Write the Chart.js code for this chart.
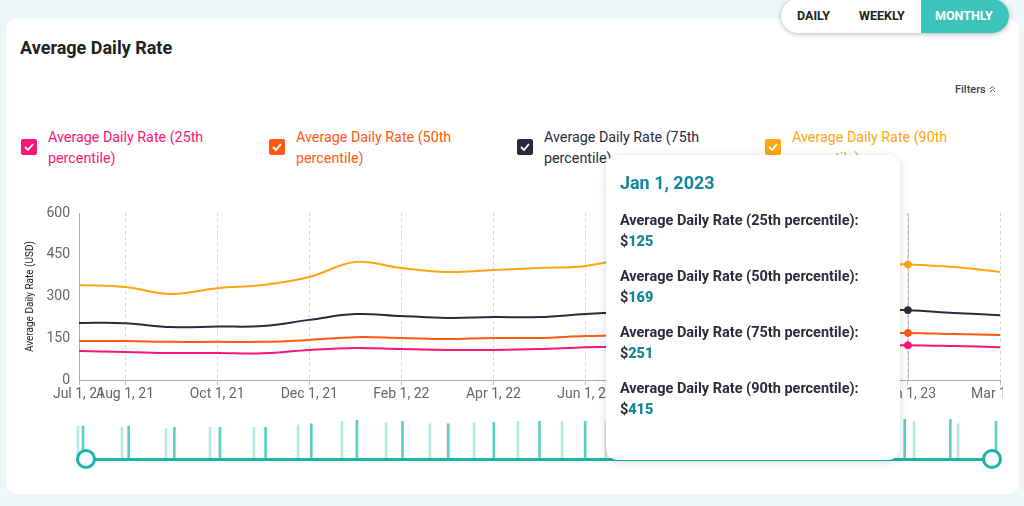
<!DOCTYPE html>
<html>
<head>
<meta charset="utf-8">
<script src="https://cdn.jsdelivr.net/npm/chart.js@4.4.0/dist/chart.umd.min.js"></script>
<style>
  body { margin: 0; width: 1024px; height: 506px; background: #eef6f9; font-family: Roboto, sans-serif; position: relative; overflow: hidden; }
  .card { position: absolute; left: 6px; top: 19px; width: 1013px; height: 475px; background: #fff; border-radius: 10px; }
  .title { position: absolute; left: 20px; top: 38px; font-size: 18px; line-height: 20px; font-weight: 700; color: #222; }
  .toggle { position: absolute; left: 781px; top: -1px; width: 228px; height: 34px; border-radius: 17px; background: #fff;
            box-shadow: 0 1px 5px rgba(0,0,0,.28); overflow: hidden; font-size: 12.5px; font-weight: 700; color: #222; }
  .toggle span { position: absolute; top: 0; line-height: 34px; }
  .toggle .on { left: 140px; width: 88px; height: 34px; background: #3cc3bb; color: #fff; text-indent: 14px; }
  .filters { position: absolute; left: 955px; top: 83px; font-size: 11px; line-height: 14px; color: #444; font-weight: 500; }
  .legend { position: absolute; top: 127px; left: 0; }
  .item { position: absolute; top: 0; width: 240px; }
  .box { position: absolute; left: 0; top: 12px; width: 16px; height: 16px; border-radius: 2px; }
  .box svg { position: absolute; left: 3px; top: 4px; }
  .txt { position: absolute; left: 27px; top: 0; width: 180px; font-size: 14.3px; line-height: 21px; }
  #wrap { position: absolute; left: 20px; top: 195px; width: 983px; height: 215px; overflow: hidden; }
  #ovLight { position: absolute; left: 68px; top: 419px; }
  #ovDark { position: absolute; left: 73px; top: 419px; }
  .track { position: absolute; left: 86px; top: 457.5px; width: 906px; height: 3px; background: #1ab4aa; }
  .knob { position: absolute; top: 449px; width: 14px; height: 14px; border: 3px solid #1ab4aa; border-radius: 50%; background: #fff; }
  #tip { position: absolute; width: 280px; height: 288px; padding: 17px 0 0 14px; background: #fff; border-radius: 12px;
         box-shadow: 0 2px 10px rgba(0,0,0,.16); display: none; z-index: 5; }
  #tip .t { font-size: 18px; line-height: 22px; font-weight: 700; color: #16879a; margin-bottom: 16px; }
  #tip .l { font-size: 14.5px; line-height: 21px; font-weight: 700; color: #2b2b3d; }
  #tip .v { font-size: 14.5px; line-height: 21px; font-weight: 700; color: #2b2b3d; margin-bottom: 14px; }
  #tip .v b { color: #16879a; }
</style>
</head>
<body>
<div class="card"></div>
<div class="title">Average Daily Rate</div>
<div class="toggle"><span style="left:16px">DAILY</span><span style="left:78px">WEEKLY</span><span class="on">MONTHLY</span></div>
<div class="filters">Filters <svg width="7" height="8" viewBox="0 0 7 8"><path d="M1 4 L3.5 1.5 L6 4 M1 7 L3.5 4.5 L6 7" fill="none" stroke="#555" stroke-width="1"/></svg></div>
<div class="legend" id="legend"></div>
<div id="wrap"><canvas id="myChart" width="990" height="215"></canvas></div>
<canvas id="ovLight" width="900" height="40"></canvas>
<canvas id="ovDark" width="933" height="40"></canvas>
<div class="track"></div>
<div class="knob" style="left:76px"></div>
<div class="knob" style="left:982px"></div>
<div id="tip"></div>

<script>
var labels = ["Jul 1, 21", "Aug 1, 21", "Sep 1, 21", "Oct 1, 21", "Nov 1, 21", "Dec 1, 21", "Jan 1, 22",
    "Feb 1, 22", "Mar 1, 22", "Apr 1, 22", "May 1, 22", "Jun 1, 22", "Jul 1, 22", "Aug 1, 22",
    "Sep 1, 22", "Oct 1, 22", "Nov 1, 22", "Dec 1, 22", "Jan 1, 23", "Feb 1, 23", "Mar 1, 23"];
var shownTicks = [0, 1, 3, 5, 7, 9, 11, 13, 15, 18, 20];

var p25 = [104, 101, 97, 97, 96, 108, 115, 111, 108, 108, 111, 118, 120, 122, 122, 124, 125, 125, 125, 122, 118];
var p50 = [140, 140, 137, 137, 137, 144, 154, 151, 147, 151, 151, 158, 162, 165, 165, 168, 170, 170, 169, 165, 162];
var p75 = [205, 204, 190, 192, 194, 216, 237, 230, 223, 226, 226, 237, 245, 250, 248, 250, 252, 252, 251, 241, 233];
var p90 = [341, 334, 309, 330, 341, 370, 424, 402, 388, 395, 402, 410, 440, 445, 430, 425, 420, 418, 415, 406, 388];

var seriesNames = ["Average Daily Rate (25th percentile)", "Average Daily Rate (50th percentile)",
    "Average Daily Rate (75th percentile)", "Average Daily Rate (90th percentile)"];
var colors = ["#ff1477", "#ff5a0d", "#2a2a3e", "#ffa412"];

// little overview marks above the range slider
var ovDark = [28, 28, 27, 27, 27, 30, 33, 32, 30, 31, 32, 32, 32, 31, 31, 31, 31, 32, 34, 34, 32];
var ovLight = [28, 27, 26, 27, 27, 29, 32, 31, 30, 31, 32, 32, 32, 31, 31, 31, 31, 32, 33, 32, 30];

var allSeries = [p25, p50, p75, p90];

// legend
var legend = document.getElementById("legend");
for (var i = 0; i < seriesNames.length; i++) {
    var it = document.createElement("div");
    it.className = "item";
    it.style.left = (21 + i * 248) + "px";
    it.innerHTML = '<div class="box" style="background:' + colors[i] + '"><svg width="10" height="8" viewBox="0 0 10 8">' +
        '<path d="M1 4 L4 7 L9 1" fill="none" stroke="#fff" stroke-width="1.8"/></svg></div>' +
        '<div class="txt" style="color:' + colors[i] + '">' + seriesNames[i] + '</div>';
    legend.appendChild(it);
}

const tipEl = document.getElementById("tip");
function externalTip(context) {
    const tt = context.tooltip;
    if (tt.opacity === 0) { tipEl.style.display = "none"; return; }
    var title = tt.dataPoints[0].label.replace(/, (\d\d)$/, ", 20$1");
    var html = '<div class="t">' + title + '</div>';
    tt.dataPoints.forEach(function (dp) {
        html += '<div class="l">' + dp.dataset.label + ':</div><div class="v">$<b>' + dp.parsed.y + '</b></div>';
    });
    tipEl.innerHTML = html;
    tipEl.style.display = "block";
    tipEl.style.left = (20 + tt.caretX - 302) + "px";
    tipEl.style.top = "155px";
}

// thin vertical line at the hovered month
const hoverLine = {
    id: 'hoverLine',
    beforeDatasetsDraw(chart) {
        const act = chart.getActiveElements();
        if (!act.length) return;
        const x = act[0].element.x, a = chart.chartArea, ctx = chart.ctx;
        ctx.save();
        ctx.strokeStyle = '#c8c8c8';
        ctx.lineWidth = 1;
        ctx.beginPath();
        ctx.moveTo(Math.round(x) + 0.5, a.top);
        ctx.lineTo(Math.round(x) + 0.5, a.bottom);
        ctx.stroke();
        ctx.restore();
    }
};

const datasets = allSeries.map(function (s, i) {
    return {
        label: seriesNames[i],
        data: s,
        borderColor: colors[i],
        backgroundColor: colors[i],
        borderWidth: 2,
        pointRadius: 0,
        pointHoverRadius: 3.5,
        pointHoverBorderWidth: 1,
        pointHoverBackgroundColor: colors[i],
        pointHoverBorderColor: colors[i],
        tension: 0.4
    };
});

const myChart = new Chart(document.getElementById("myChart"), {
    type: 'line',
    data: { labels: labels, datasets: datasets },
    plugins: [hoverLine],
    options: {
        responsive: false,
        animation: false,
        layout: { padding: { top: 18, right: 10, bottom: 0, left: 0 } },
        interaction: { mode: 'index', intersect: false },
        plugins: {
            legend: { display: false },
            tooltip: { enabled: false, external: externalTip }
        },
        scales: {
            x: {
                offset: false,
                grid: { color: '#d6d6d6', tickLength: 5, tickColor: '#bbb' },
                border: { color: '#aaa', dash: [3, 3] },
                ticks: {
                    autoSkip: false, maxRotation: 0, padding: 1, color: '#666',
                    font: { family: 'Roboto', size: 14 },
                    callback: function (v, idx) { return shownTicks.indexOf(idx) >= 0 ? labels[idx] : null; }
                },
                afterFit: function (s) { s.height = 30; s.paddingLeft = 0; s.paddingRight = 0; }
            },
            y: {
                min: 0, max: 600,
                grid: { display: false },
                border: { color: '#aaa' },
                ticks: { stepSize: 150, padding: 1, color: '#666', font: { family: 'Roboto', size: 14 } },
                title: { display: true, text: 'Average Daily Rate (USD)', color: '#222', font: { family: 'Roboto', size: 10 } },
                afterFit: function (s) { s.width = 59; }
            }
        }
    }
});

// hover state on Jan 1, 2023
var active = allSeries.map(function (s, i) { return { datasetIndex: i, index: 18 }; });
myChart.setActiveElements(active);
myChart.tooltip.setActiveElements(active, { x: 0, y: 0 });
myChart.update();

// overview marks (two layers)
function overview(id, values, color) {
    return new Chart(document.getElementById(id), {
        type: 'bar',
        data: { labels: labels, datasets: [{ data: values, backgroundColor: color, barThickness: 2, clip: false }] },
        options: {
            responsive: false,
            animation: false,
            events: [],
            layout: { padding: { left: 10, right: 10, top: 0, bottom: 0 } },
            plugins: { legend: { display: false }, tooltip: { enabled: false } },
            scales: {
                x: { offset: false, display: false },
                y: { min: 0, max: 34, display: false }
            }
        }
    });
}
overview("ovLight", ovLight, '#b5ebe6');
overview("ovDark", ovDark, '#5ccfc5');
</script>
</body>
</html>
